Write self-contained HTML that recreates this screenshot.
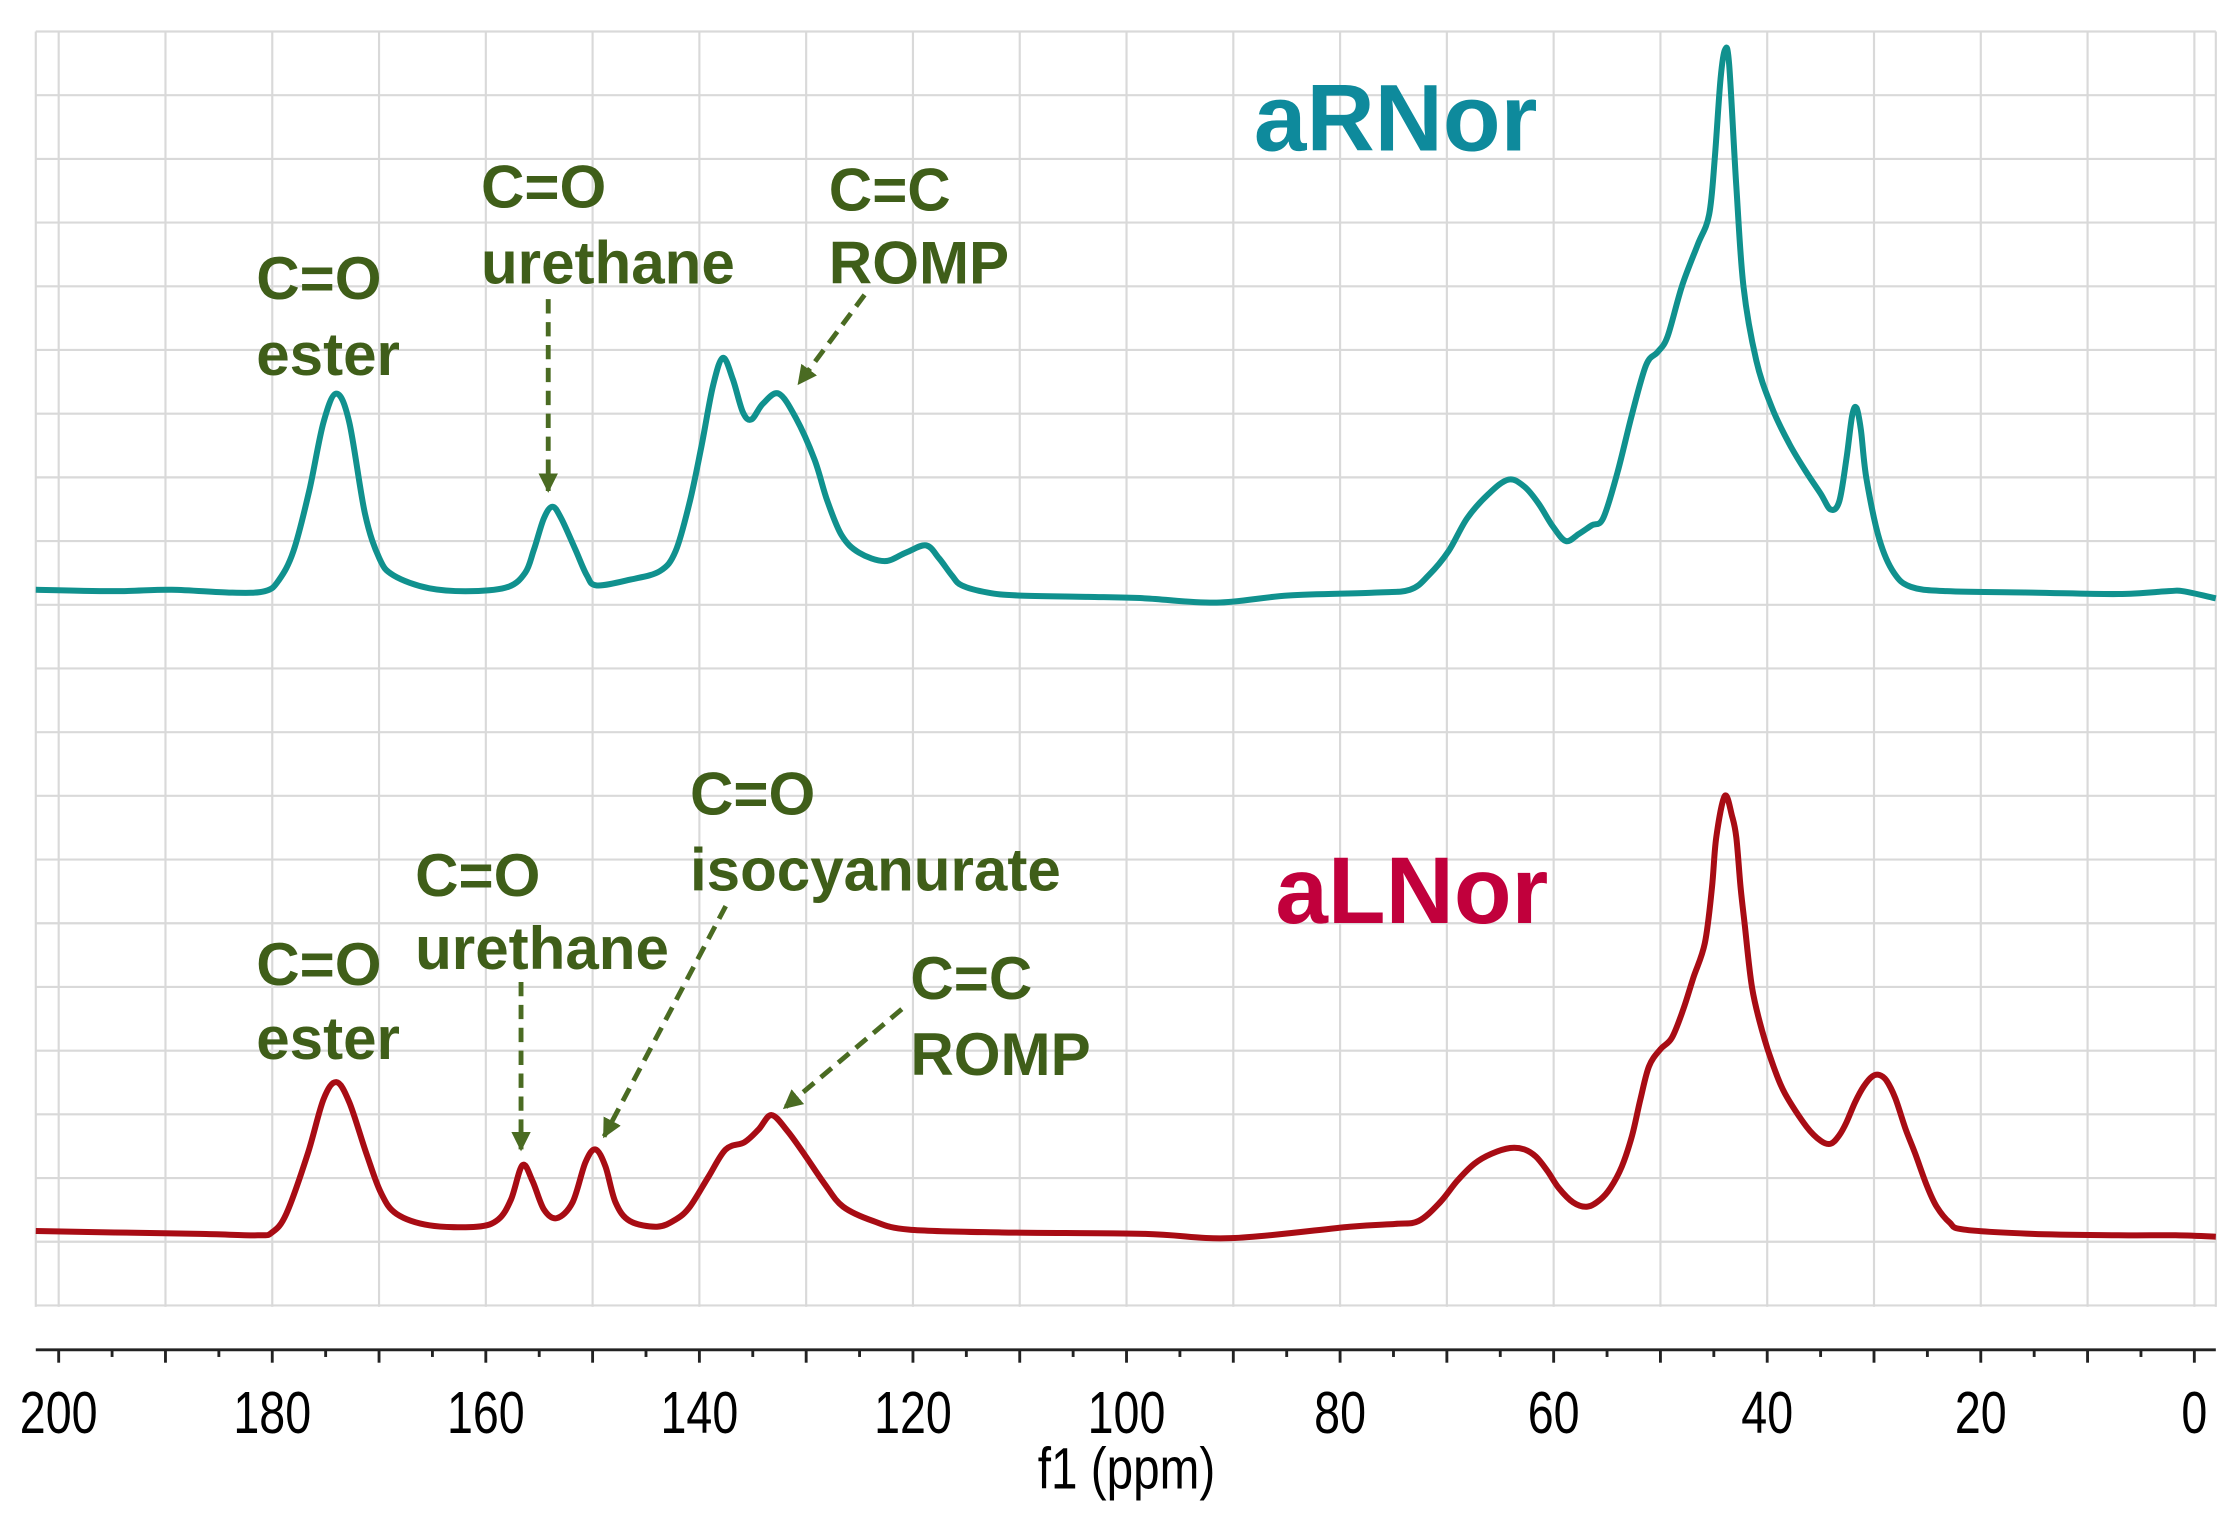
<!DOCTYPE html>
<html><head><meta charset="utf-8"><style>
html,body{margin:0;padding:0;background:#fff;}
svg{display:block}
.lab{font-family:"Liberation Sans",Arial,sans-serif;font-weight:bold;font-size:42px;fill:#3f5e19}
.tick{font-family:"Liberation Sans",Arial,sans-serif;font-size:37px;fill:#000}
</style></head><body>
<svg id="s" width="2233" height="1513" viewBox="0 0 1560 1057" preserveAspectRatio="none" xmlns="http://www.w3.org/2000/svg">
<rect x="0" y="0" width="1560" height="1057" fill="#fff"/>
<g id="grid" stroke="#d9d9d9" stroke-width="1.5"></g>
<g id="axis" stroke="#222" stroke-width="2"></g>
<g id="ticklabels"></g>
<text class="tick" x="787" y="1040" text-anchor="middle" transform="translate(787,1040) scale(0.9,1.1) translate(-787,-1040)">f1 (ppm)</text>
<path id="top" fill="none" stroke="#10918e" stroke-width="4.2" stroke-linejoin="round"/>
<path id="bot" fill="none" stroke="#a80c14" stroke-width="4.2" stroke-linejoin="round"/>
<defs><marker id="ah" viewBox="0 0 10 10" refX="9" refY="5" markerWidth="4" markerHeight="4" orient="auto"><path d="M0,0 L10,5 L0,10 z" fill="#4a6b22"/></marker></defs>
<g stroke="#4a6b22" stroke-width="3.4" stroke-dasharray="10,6" fill="none" marker-end="url(#ah)">
<line x1="383" y1="209" x2="383" y2="343"/>
<line x1="604" y1="206" x2="558" y2="268"/>
<line x1="364" y1="686" x2="364" y2="803"/>
<line x1="507" y1="633" x2="422" y2="794"/>
<line x1="630" y1="705" x2="548" y2="774"/>
</g>
<text class="lab" x="179" y="209">C=O</text>
<text class="lab" x="179" y="262">ester</text>
<text class="lab" x="336" y="145">C=O</text>
<text class="lab" x="336" y="198">urethane</text>
<text class="lab" x="579" y="147">C=C</text>
<text class="lab" x="579" y="198">ROMP</text>
<text class="lab" x="179" y="688">C=O</text>
<text class="lab" x="179" y="740">ester</text>
<text class="lab" x="290" y="626">C=O</text>
<text class="lab" x="290" y="677">urethane</text>
<text class="lab" x="482" y="569">C=O</text>
<text class="lab" x="482" y="622">isocyanurate</text>
<text class="lab" x="636" y="698">C=C</text>
<text class="lab" x="636" y="751">ROMP</text>
<text x="876" y="105" style="font-family:'Liberation Sans',Arial,sans-serif;font-weight:bold;font-size:66px;fill:#0e8a9c">aRNor</text>
<text x="891" y="645" style="font-family:'Liberation Sans',Arial,sans-serif;font-weight:bold;font-size:66px;fill:#c1003c">aLNor</text>
</svg>
<script>
var NS="http://www.w3.org/2000/svg";
function el(p,t,a){var e=document.createElementNS(NS,t);for(var k in a)e.setAttribute(k,a[k]);p.appendChild(e);return e;}
var g=document.getElementById('grid');
function X(p){return 41+(200-p)*7.46;}
for(var p=200;p>=-2;p-=10){el(g,'line',{x1:X(p),y1:22,x2:X(p),y2:913});}
el(g,'line',{x1:25,y1:22,x2:25,y2:913});el(g,'line',{x1:1548,y1:22,x2:1548,y2:913});
for(var y=22;y<=914;y+=44.5){el(g,'line',{x1:25,y1:y,x2:1548,y2:y});}
var a=document.getElementById('axis');
el(a,'line',{x1:25,y1:943,x2:1548,y2:943});
for(var p=200;p>=0;p-=5){var L=(p%10==0)?9:5;el(a,'line',{x1:X(p),y1:943,x2:X(p),y2:943+L});}
var tl=document.getElementById('ticklabels');
for(var p=200;p>=0;p-=20){var x=X(p);var t=el(tl,'text',{x:x,y:1001,'text-anchor':'middle','class':'tick',transform:'translate('+x+',1001) scale(0.88,1.12) translate('+(-x)+',-1001)'});t.textContent=p;}
function smooth(P){var d="M"+P[0][0]+","+P[0][1];for(var i=0;i<P.length-1;i++){var p0=P[i-1]||P[i],p1=P[i],p2=P[i+1],p3=P[i+2]||p2;
var c1x=p1[0]+(p2[0]-p0[0])/6,c1y=p1[1]+(p2[1]-p0[1])/6,c2x=p2[0]-(p3[0]-p1[0])/6,c2y=p2[1]-(p3[1]-p1[1])/6;
d+=" C"+c1x.toFixed(1)+","+c1y.toFixed(1)+" "+c2x.toFixed(1)+","+c2y.toFixed(1)+" "+p2[0]+","+p2[1];}return d;}
var T=[[25,412],[80,413],[120,412],[160,414],[185,413],[195,405],[205,385],[216,343],[226,295],[235,275],[244,295],[255,359],[265,390],[275,402],[300,411],[330,413],[355,410],[367,400],[373,384],[380,362],[386,354],[392,362],[402,384],[410,402],[417,409],[440,405],[461,399],[472,385],[482,350],[490,312],[498,270],[505,250],[512,265],[519,288],[525,293],[533,282],[544,275],[556,292],[569,321],[578,350],[588,374],[600,386],[618,392],[633,386],[647,381],[656,390],[665,402],[672,409],[690,414],[711,416],[760,417],[800,418],[850,421],[900,416],[960,414],[985,412],[998,402],[1012,385],[1025,362],[1040,345],[1054,335],[1065,340],[1075,352],[1085,368],[1094,378],[1103,373],[1112,367],[1120,362],[1130,330],[1140,290],[1150,255],[1158,246],[1165,235],[1175,200],[1186,171],[1194,150],[1198,110],[1202,55],[1205,35],[1208,45],[1213,130],[1218,200],[1227,252],[1238,285],[1250,310],[1262,330],[1272,345],[1279,356],[1285,350],[1290,320],[1294,290],[1297,285],[1300,300],[1304,335],[1313,377],[1323,400],[1335,410],[1360,413],[1420,414],[1480,415],[1515,413],[1525,413],[1548,418]];
var B=[[25,860],[80,861],[140,862],[180,863],[190,861],[200,848],[215,806],[226,768],[235,756],[244,770],[256,806],[266,833],[277,848],[300,856],[333,857],[348,852],[357,838],[365,814],[372,825],[380,845],[389,851],[400,840],[409,812],[416,803],[423,815],[430,840],[440,853],[459,857],[472,852],[482,843],[495,822],[507,803],[520,798],[530,789],[539,779],[550,790],[563,808],[576,827],[589,843],[610,853],[635,859],[700,861],[800,862],[860,865],[943,857],[975,855],[991,853],[1006,840],[1018,825],[1030,813],[1042,806],[1055,802],[1065,803],[1073,808],[1081,818],[1089,830],[1099,840],[1109,843],[1118,838],[1125,830],[1133,815],[1140,794],[1146,768],[1152,745],[1160,733],[1168,725],[1176,705],[1183,683],[1191,659],[1196,620],[1199,585],[1205,556],[1210,570],[1213,585],[1216,620],[1219,647],[1224,690],[1231,720],[1239,745],[1247,764],[1262,787],[1272,797],[1279,799],[1285,793],[1290,784],[1296,770],[1302,759],[1308,752],[1313,751],[1318,755],[1324,767],[1331,788],[1338,806],[1346,828],[1353,843],[1362,854],[1372,859],[1420,862],[1480,863],[1520,863],[1548,864]];
document.getElementById('top').setAttribute('d',smooth(T));
document.getElementById('bot').setAttribute('d',smooth(B));
</script>
</body></html>
